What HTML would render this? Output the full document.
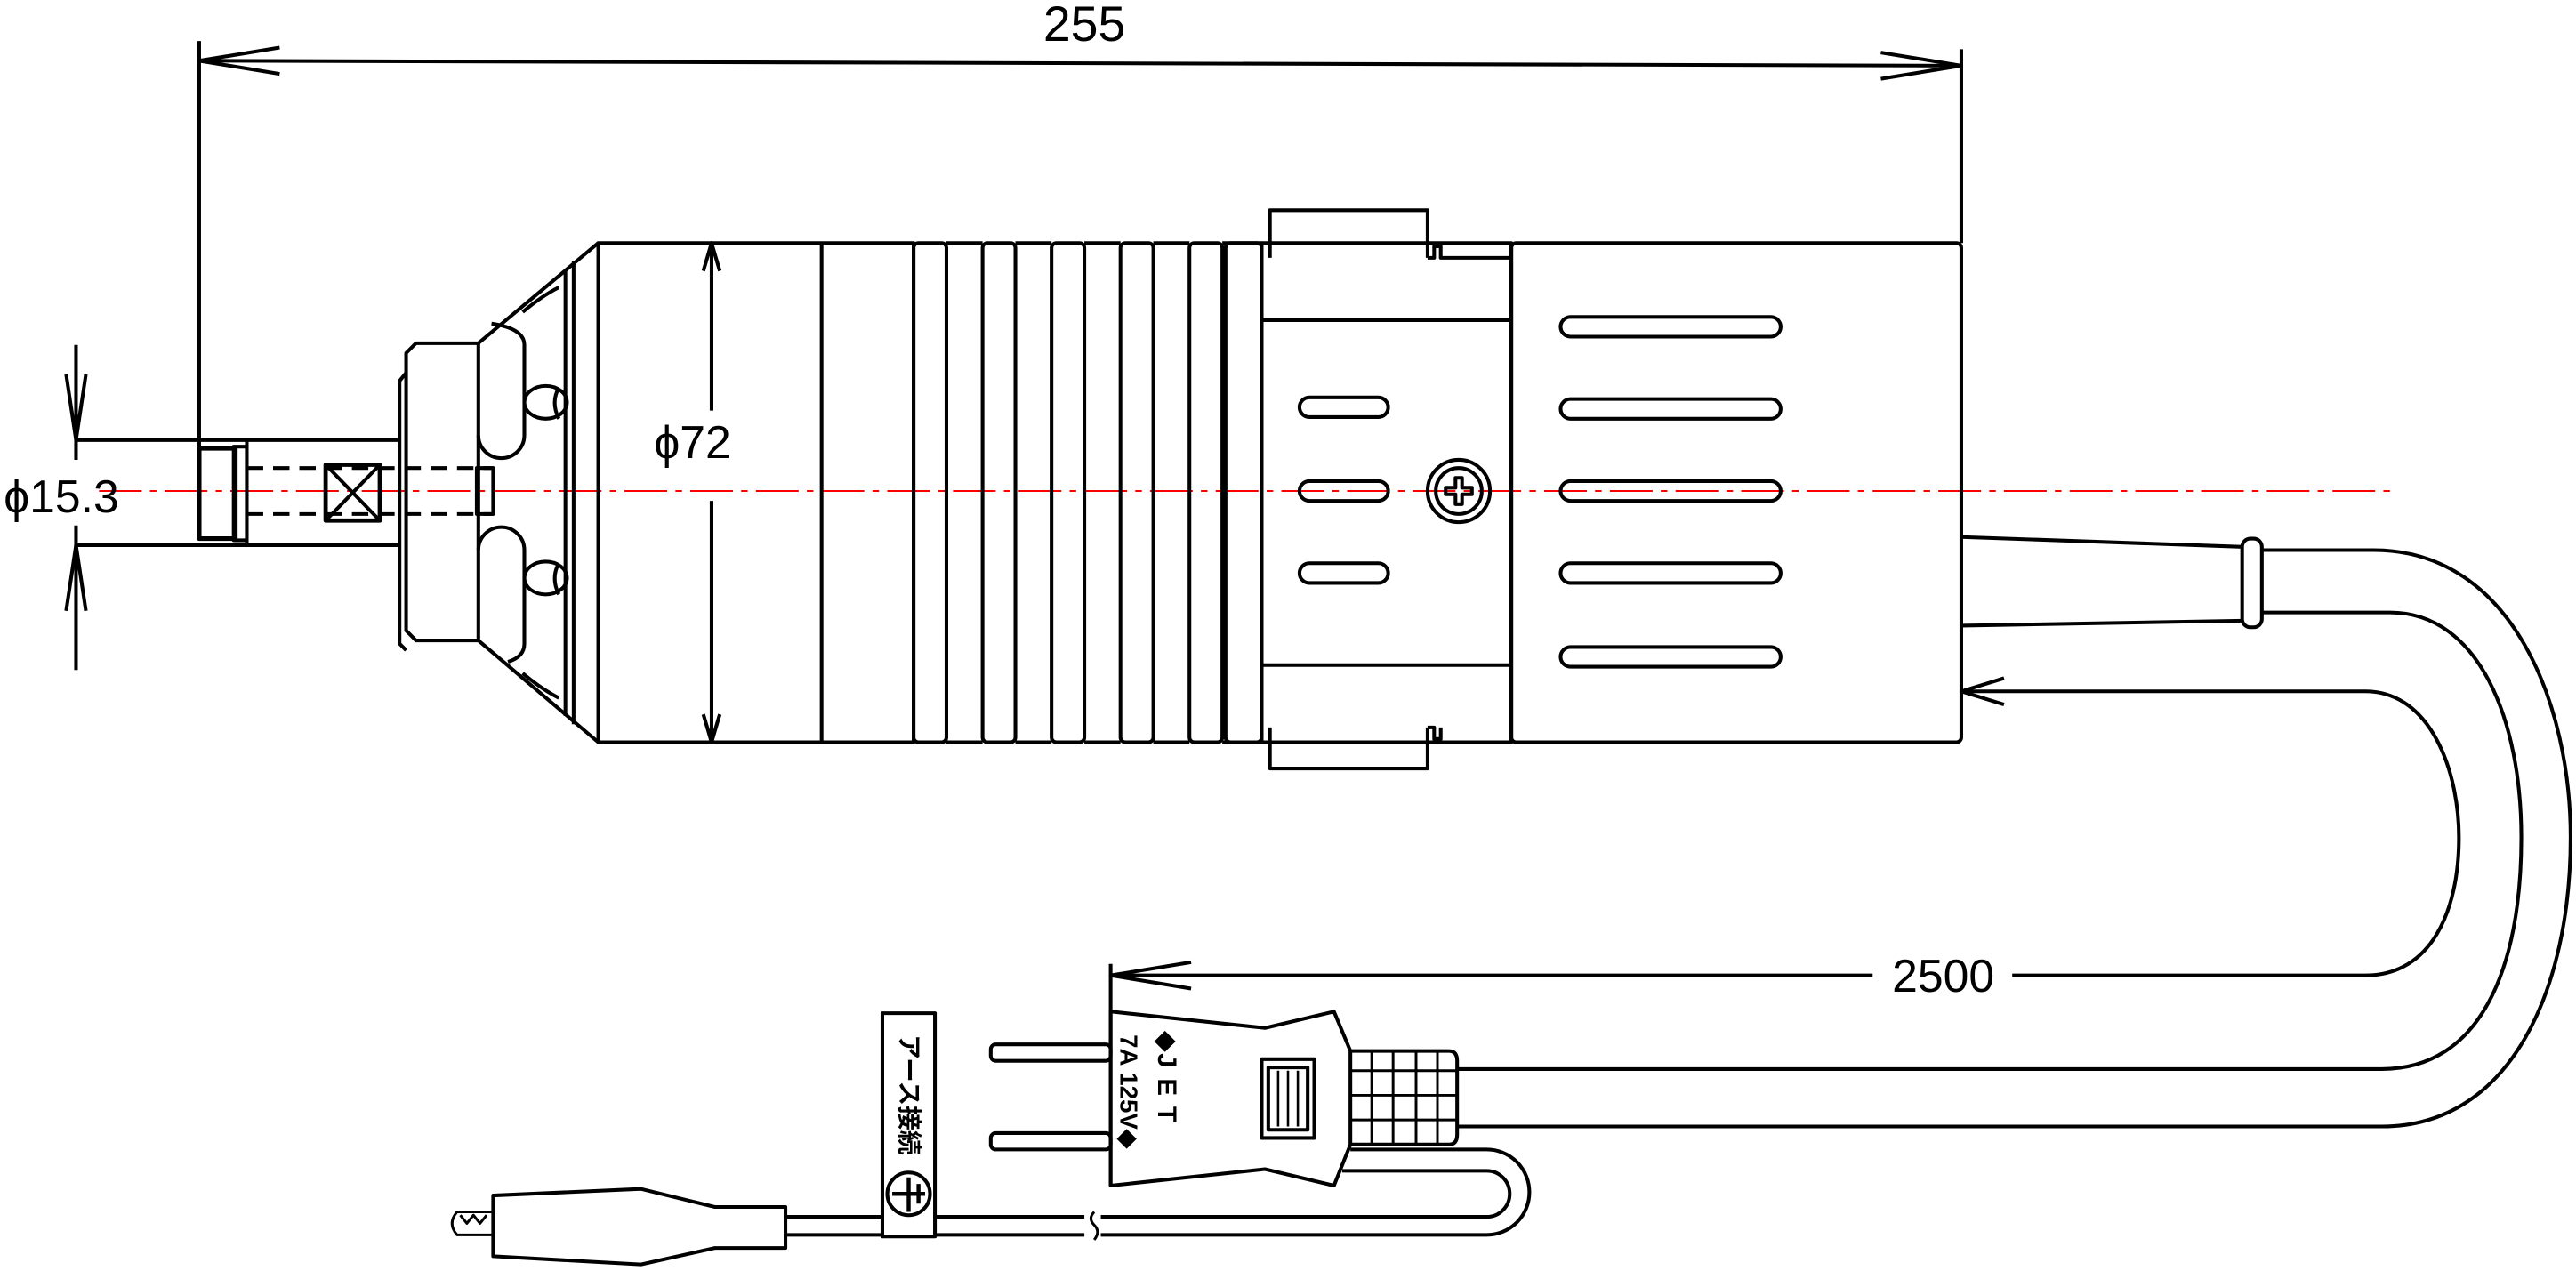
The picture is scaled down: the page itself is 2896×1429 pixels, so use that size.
<!DOCTYPE html>
<html><head><meta charset="utf-8"><style>html,body{margin:0;padding:0;background:#fff}svg{display:block}</style></head><body>
<svg width="2896" height="1429" viewBox="0 0 1568 774" xmlns="http://www.w3.org/2000/svg" fill="none" stroke="#000" stroke-width="2.2" stroke-linejoin="round">
<!-- 255 dimension -->
<line x1="121" y1="37" x2="1194" y2="40"/>
<path d="M170,29 L121,37 L170,45 M1145,32 L1194,40 L1145,48"/>
<line x1="121" y1="25" x2="121" y2="272"/>
<line x1="1194" y1="30" x2="1194" y2="148"/>
<text x="660" y="25" font-family="Liberation Sans, sans-serif" font-size="30" fill="#000" stroke="none" text-anchor="middle">255</text>
<!-- centerline -->
<line x1="60" y1="299" x2="1455" y2="299" stroke="#f00" stroke-width="1.1" stroke-dasharray="26,5,4,5"/>
<!-- phi 15.3 -->
<line x1="46" y1="268" x2="243" y2="268"/><line x1="46" y1="332" x2="243" y2="332"/>
<line x1="46" y1="210" x2="46" y2="280"/><line x1="46" y1="320" x2="46" y2="408"/>
<path d="M40,228 L46,268 L52,228 M40,372 L46,332 L52,372"/>
<text x="2" y="312" font-family="Liberation Sans, sans-serif" font-size="28" fill="#000" stroke="none">ϕ15.3</text>
<!-- nut -->
<rect x="121" y="273" width="22" height="55" stroke-width="2.8"/>
<rect x="142" y="272" width="8" height="57"/>
<line x1="150" y1="268" x2="150" y2="332"/>
<path d="M150,285 H300 M150,313 H300" stroke-dasharray="10,6"/>
<rect x="290" y="285" width="10" height="28"/>
<rect x="198" y="283" width="33" height="34" stroke-width="2.6"/>
<path d="M198,283 L231,317 M231,283 L198,317"/>
<!-- collar -->
<path d="M247,227 L243,232 V392 L247,396"/>
<path d="M291,209 H253 L247,215 V384 L253,390 H291 Z"/>
<path d="M291,209 L364,148 M291,390 L364,452"/>
<line x1="344" y1="164" x2="344" y2="436"/><line x1="349" y1="159" x2="349" y2="441"/>
<path d="M299,197 Q319,200 319,210 V265 A14,14 0 0 1 291,265"/>
<path d="M291,335 A14,14 0 0 1 319,335 V392 Q319,400 309,403"/>
<ellipse cx="332" cy="245" rx="13" ry="10"/><path d="M340,236 Q335,245 340,255"/>
<ellipse cx="332" cy="352" rx="13" ry="10"/><path d="M340,343 Q335,352 340,362"/>
<path d="M318,190 Q330,180 340,175 M318,410 Q330,420 340,425"/>
<!-- main body -->
<rect x="364" y="148" width="192" height="304"/>
<line x1="500" y1="148" x2="500" y2="452"/>
<line x1="433" y1="148" x2="433" y2="250"/><line x1="433" y1="305" x2="433" y2="452"/>
<path d="M428,165 L433,148 L438,165 M428,435 L433,452 L438,435"/>
<text x="398" y="279" font-family="Liberation Sans, sans-serif" font-size="28" fill="#000" stroke="none">ϕ72</text>
<!-- ribs -->
<rect x="556" y="148" width="20" height="304" rx="3"/>
<rect x="598" y="148" width="20" height="304" rx="3"/>
<rect x="640" y="148" width="20" height="304" rx="3"/>
<rect x="682" y="148" width="20" height="304" rx="3"/>
<rect x="724" y="148" width="20" height="304" rx="3"/>
<path d="M576,148 H598 M576,452 H598 M618,148 H640 M618,452 H640 M660,148 H682 M660,452 H682 M702,148 H724 M702,452 H724 M744,148 H768 M744,452 H768"/>
<rect x="746" y="148" width="22" height="304" rx="3"/>
<!-- clamp -->
<path d="M773,157 V128 H869 V157 M773,443 V468 H869 V443"/>
<rect x="768" y="148" width="152" height="304"/>
<path d="M768,195 H920 M768,405 H920"/>
<path d="M869,157 H873 V150 H877 V157 H920 M869,443 H873 V450 H877 V443"/>
<rect x="791" y="242" width="54" height="12" rx="6"/>
<rect x="791" y="293" width="54" height="12" rx="6"/>
<rect x="791" y="343" width="54" height="12" rx="6"/>
<circle cx="888" cy="299" r="19"/><circle cx="888" cy="299" r="14"/>
<path d="M880,297 H886 V291 H890 V297 H896 V301 H890 V307 H886 V301 H880 Z"/>
<!-- right housing -->
<rect x="920" y="148" width="274" height="304" rx="3"/>
<rect x="950" y="193" width="134" height="12" rx="6"/>
<rect x="950" y="243" width="134" height="12" rx="6"/>
<rect x="950" y="293" width="134" height="12" rx="6"/>
<rect x="950" y="343" width="134" height="12" rx="6"/>
<rect x="950" y="394" width="134" height="12" rx="6"/>
<!-- cord -->
<path d="M1194,327 L1365,333 M1194,381 L1365,378"/>
<rect x="1365" y="328" width="12" height="54" rx="5"/>
<path d="M1377,335 H1445 C1530,335 1565,430 1565,510 C1565,600 1530,686 1450,686 H887"/>
<path d="M1377,373 H1455 C1510,373 1535,440 1535,510 C1535,590 1510,651 1450,651 H887"/>
<!-- 2500 dimension -->
<path d="M1194,421 H1440 C1480,421 1497,470 1497,510 C1497,555 1480,594 1440,594 H1225 M1140,594 H676"/>
<path d="M1220,413 L1194,421 L1220,429 M725,586 L676,594 L725,602"/>
<line x1="676" y1="587" x2="676" y2="722"/>
<text x="1183" y="604" font-family="Liberation Sans, sans-serif" font-size="28" fill="#000" stroke="none" text-anchor="middle">2500</text>
<!-- plug -->
<path d="M676,616 L770,626 L812,616 L822,640 V697 L812,722 L770,712 L676,722 Z"/>
<rect x="603" y="636" width="73" height="10" rx="3"/>
<rect x="603" y="690" width="73" height="10" rx="3"/>
<rect x="768" y="645" width="32" height="48"/>
<rect x="772" y="650" width="24" height="38"/>
<path d="M778,652 V686 M784,652 V686 M790,652 V686" stroke-width="1.4"/>
<path d="M822,640 H882 Q887,640 887,646 V691 Q887,697 882,697 H822"/>
<path d="M835,640 V697 M848,640 V697 M862,640 V697 M875,640 V697 M822,652 H887 M822,667 H887 M822,682 H887" stroke-width="1.6"/>
<text transform="translate(705,628) rotate(90)" font-family="Liberation Sans, sans-serif" font-size="16" font-weight="bold" fill="#000" stroke="none" letter-spacing="1">◆J    E    T</text>
<text transform="translate(682,630) rotate(90)" font-family="Liberation Sans, sans-serif" font-size="15" font-weight="bold" fill="#000" stroke="none">7A 125V◆</text>
<!-- earth loop -->
<path d="M822,700 H905 A26,26 0 0 1 905,752 H670"/>
<path d="M817,713 H905 A14,14 0 0 1 905,741 H670"/>
<path d="M660,741 H478 M660,752 H478"/>
<path d="M666,738 Q662,742 666,746 Q670,750 666,755" stroke-width="1.6"/>
<!-- earth tag -->
<rect x="537" y="617" width="32" height="136" fill="#fff"/>
<text transform="translate(548,630) rotate(90)" font-family="Liberation Sans, 'Noto Sans CJK JP', sans-serif" font-size="15" font-weight="bold" fill="#000" stroke="none">アース接続</text>
<circle cx="553" cy="727" r="13"/>
<path d="M543,727 H563 M553,717 V738 M559,721 V733" stroke-width="2.4"/>
<!-- alligator clip -->
<path d="M300,728 L390,724 L435,735 H478 V760 H435 L390,770 L300,765 Z"/>
<path d="M300,738 H278 Q272,745 278,752 H300 M280,740 L284,745 L288,740 L292,745 L296,740" stroke-width="1.6"/>
</svg>
</body></html>
